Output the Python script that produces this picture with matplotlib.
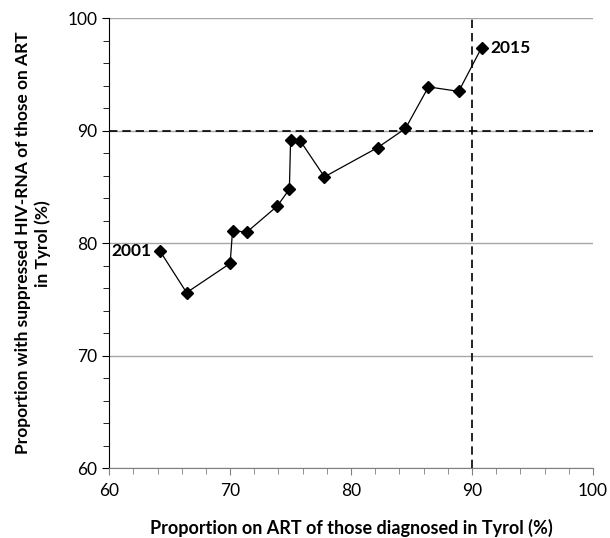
import matplotlib.pyplot as plt
from matplotlib.ticker import MultipleLocator

plt.rcParams['font.family'] = ['Lato', 'DejaVu Sans']

# Treatment cascade in Tyrol, 2001-2015
years = list(range(2001, 2016))
on_art = [64.2, 66.4, 70.0, 70.2, 71.4, 73.9, 74.9, 75.0, 75.8, 77.8, 82.2, 84.5, 86.4, 88.9, 90.8]
suppressed = [79.3, 75.6, 78.2, 81.1, 81.0, 83.3, 84.8, 89.2, 89.1, 85.9, 88.5, 90.2, 93.9, 93.5, 97.4]

fig = plt.figure(figsize=(6.1, 5.38), dpi=100)
ax = fig.add_axes([0.179, 0.130, 0.793, 0.836])

ax.set_xlim(60, 100)
ax.set_ylim(60, 100)
ax.xaxis.set_major_locator(MultipleLocator(10))
ax.xaxis.set_minor_locator(MultipleLocator(2))
ax.yaxis.set_major_locator(MultipleLocator(10))
ax.yaxis.set_minor_locator(MultipleLocator(2))

ax.grid(axis='y', which='major', color='#a6a6a6', linewidth=1)
ax.set_axisbelow(True)

for side in ('top', 'right'):
    ax.spines[side].set_visible(False)
ax.spines['left'].set_color('black')
ax.spines['bottom'].set_color('#808080')

ax.tick_params(axis='both', which='major', direction='out', length=5, labelsize=12.5)
ax.tick_params(axis='both', which='minor', direction='out', length=4)
ax.tick_params(axis='x', which='both', color='#808080')
ax.tick_params(axis='x', pad=6)

# 90-90 targets
ax.axhline(90, color='black', linestyle=(0, (5, 3)), linewidth=1.2)
ax.axvline(90, color='black', linestyle=(0, (5, 3)), linewidth=1.2)

ax.plot(on_art, suppressed, color='black', linewidth=0.9,
        marker='D', markersize=6.5, markerfacecolor='black', markeredgecolor='black')

ax.annotate(str(years[0]), (on_art[0], suppressed[0]), xytext=(-6, 0),
            textcoords='offset points', ha='right', va='center',
            fontsize=12.5, fontweight='bold')
ax.annotate(str(years[-1]), (on_art[-1], suppressed[-1]), xytext=(6, 0),
            textcoords='offset points', ha='left', va='center',
            fontsize=12.5, fontweight='bold')

ax.set_xlabel('Proportion on ART of those diagnosed in Tyrol (%)',
              fontsize=13, fontweight='bold', labelpad=14)
ax.set_ylabel('Proportion with suppressed HIV-RNA of those on ART\nin Tyrol (%)',
              fontsize=12.5, fontweight='bold', labelpad=12)

fig.savefig('out.png', dpi=100)
